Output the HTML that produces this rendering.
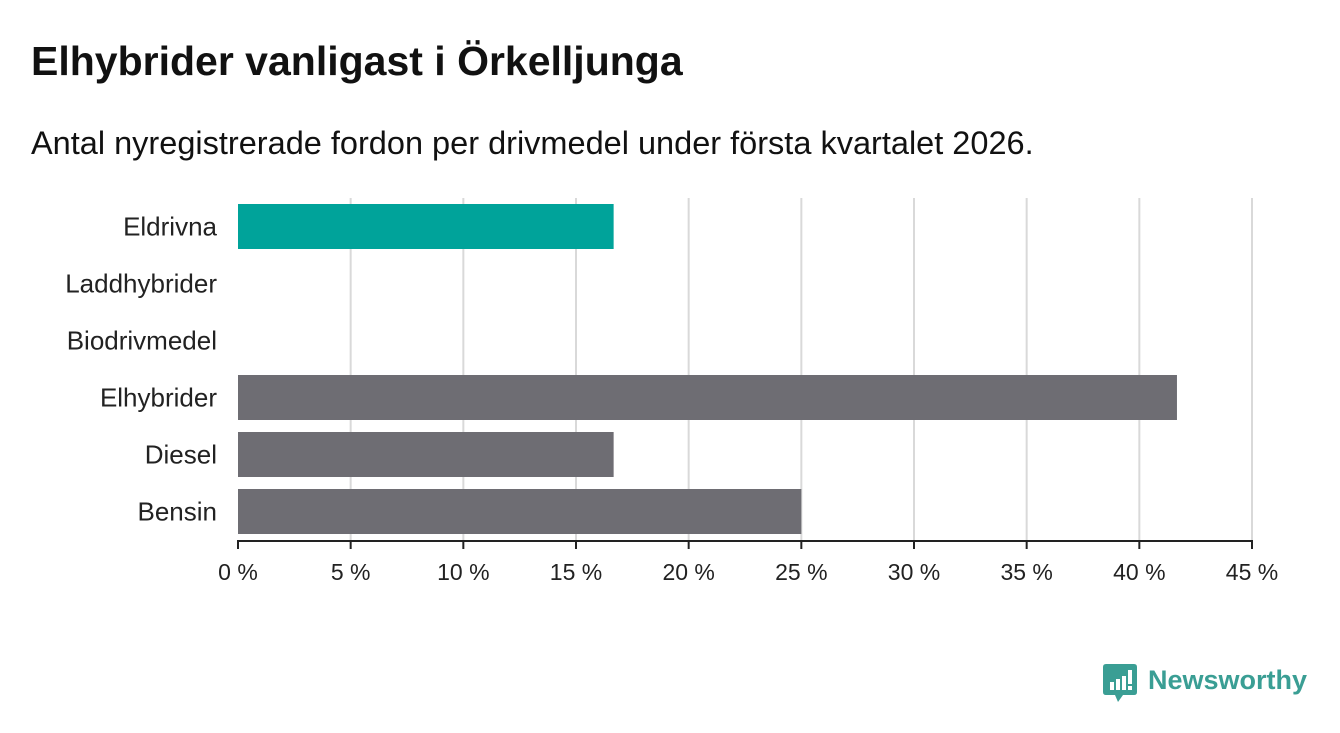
<!DOCTYPE html>
<html><head><meta charset="utf-8"><style>
body{margin:0;width:1340px;height:733px;background:#fff;font-family:"Liberation Sans",sans-serif;overflow:hidden;position:relative}
#title{position:absolute;left:31px;top:38px;font-size:41px;font-weight:bold;color:#111;margin:0}
#sub{position:absolute;left:31px;top:125px;font-size:32.5px;color:#111}
svg{position:absolute;left:0;top:0}
</style></head><body>
<h1 id="title">Elhybrider vanligast i Örkelljunga</h1>
<div id="sub">Antal nyregistrerade fordon per drivmedel under första kvartalet 2026.</div>
<svg id="chart" width="1340" height="733"></svg>
<div style="position:absolute;left:1103px;top:664px;width:210px;height:40px">
<svg width="34" height="40" style="position:absolute;left:0;top:0"><path d="M3 0H31Q34 0 34 3V28Q34 31 31 31H20L15 38L12 31H3Q0 31 0 28V3Q0 0 3 0Z" fill="#3a9e94"/><rect x="7" y="18" width="4" height="8" fill="#fff"/><rect x="13" y="15" width="4" height="11" fill="#fff"/><rect x="19" y="12" width="4" height="14" fill="#fff"/><rect x="25" y="6" width="4" height="14" fill="#fff"/><rect x="25" y="22" width="4" height="4" fill="#fff"/></svg>
<span style="position:absolute;left:45px;top:1px;font-size:27px;font-weight:bold;color:#3a9e94">Newsworthy</span></div>
<script>
const categories=["Eldrivna","Laddhybrider","Biodrivmedel","Elhybrider","Diesel","Bensin"];
const values=[16.67,0,0,41.67,16.67,25];
const colors=["#00a39a","#6e6d73","#6e6d73","#6e6d73","#6e6d73","#6e6d73"];
const ticks=[0,5,10,15,20,25,30,35,40,45];
const svg=document.getElementById('chart');const NS='http://www.w3.org/2000/svg';
const x0=238,x1=1252,xmax=45,yTop=198,step=57,bh=45;
const x=v=>x0+(v/xmax)*(x1-x0);
function mk(t,a){const e=document.createElementNS(NS,t);for(const k in a)e.setAttribute(k,a[k]);svg.appendChild(e);return e;}
ticks.forEach(t=>{if(t>0){const g=mk('line',{x1:x(t),x2:x(t),y1:yTop,y2:541,stroke:'#d9d9d9','stroke-width':2});

}
const tk=mk('line',{x1:x(t),x2:x(t),y1:541,y2:549,stroke:'#222','stroke-width':2});


const l=mk('text',{x:x(t),y:580,'text-anchor':'middle','font-size':23,fill:'#222','font-family':'Liberation Sans, sans-serif'});l.textContent=t+' %';

});
categories.forEach((c,i)=>{const yc=yTop+6+i*step;
const r=mk('rect',{x:x0,y:yc,width:x(values[i])-x0,height:bh,fill:colors[i]});


const l=mk('text',{x:217,y:yc+bh/2+9,'text-anchor':'end','font-size':26,fill:'#222','font-family':'Liberation Sans, sans-serif'});l.textContent=c;

});
const ax=mk('line',{x1:x0-1,x2:x1+1,y1:541,y2:541,stroke:'#222','stroke-width':2});


</script></body></html>
